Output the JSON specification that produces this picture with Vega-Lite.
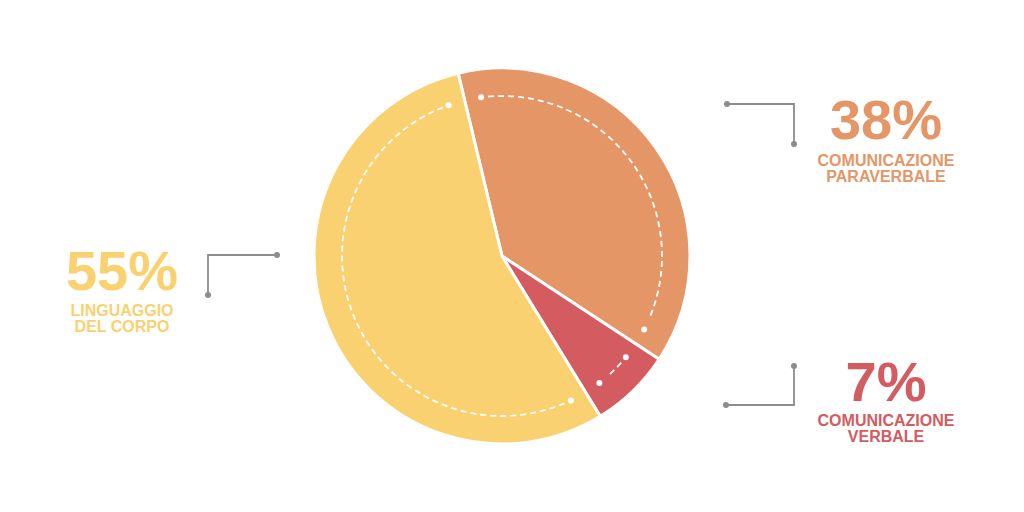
{
  "$schema": "https://vega.github.io/schema/vega-lite/v6.json",
  "width": 1004,
  "height": 512,
  "padding": {"left": 0, "top": 0, "right": 20, "bottom": 0},
  "autosize": {"type": "none"},
  "background": "#ffffff",
  "config": {"view": {"stroke": null}, "font": "Liberation Sans"},
  "datasets": {
    "shares": [
      {"key": "para", "value": 38, "o": 1, "pct": "38%", "label": "COMUNICAZIONE\nPARAVERBALE", "lx": 886, "ly": 139, "by": 166},
      {"key": "verb", "value": 7, "o": 2, "pct": "7%", "label": "COMUNICAZIONE\nVERBALE", "lx": 886, "ly": 401, "by": 426},
      {"key": "corpo", "value": 55, "o": 3, "pct": "55%", "label": "LINGUAGGIO\nDEL CORPO", "lx": 122, "ly": 290, "by": 316}
    ],
    "connectors": [
      {"key": "corpo", "s": 0, "x": 208, "y": 295, "end": true},
      {"key": "corpo", "s": 1, "x": 208, "y": 255, "end": false},
      {"key": "corpo", "s": 2, "x": 277, "y": 255, "end": true},
      {"key": "para", "s": 0, "x": 727, "y": 104, "end": true},
      {"key": "para", "s": 1, "x": 794, "y": 104, "end": false},
      {"key": "para", "s": 2, "x": 794, "y": 144, "end": true},
      {"key": "verb", "s": 0, "x": 794, "y": 366, "end": true},
      {"key": "verb", "s": 1, "x": 794, "y": 405, "end": false},
      {"key": "verb", "s": 2, "x": 726, "y": 405, "end": true}
    ]
  },
  "resolve": {"scale": {"theta": "independent"}},
  "layer": [
    {
      "data": {"name": "shares"},
      "mark": {"type": "arc", "outerRadius": 188, "stroke": "#ffffff", "strokeWidth": 3},
      "encoding": {
        "theta": {"field": "value", "type": "quantitative", "stack": true, "scale": {"range": [-0.2356, 6.0476]}},
        "color": {"field": "key", "type": "nominal", "scale": {"domain": ["para", "verb", "corpo"], "range": ["#E59667", "#D45B60", "#F9D170"]}, "legend": null},
        "order": {"field": "o", "type": "quantitative"}
      }
    },
    {
      "data": {"name": "shares"},
      "transform": [
        {"stack": "value", "groupby": [], "sort": [{"field": "o", "order": "ascending"}], "as": ["t0", "t1"]},
        {"filter": "datum.key === 'para'"}
      ],
      "mark": {"type": "arc", "outerRadius": 160, "innerRadius": 0, "padAngle": 0.2094, "filled": false, "fillOpacity": 0, "stroke": "#ffffff", "strokeWidth": 1.8, "strokeCap": "butt",
        "strokeDash": [0,7,6,4,6,4,6,4,6,4,6,4,6,4,6,4,6,4,6,4,6,4,6,4,6,4,6,4,6,4,6,4,6,4,6,4,6,4,6,4,6,4,6,4,6,4,6,4,6,4,6,4,6,4,6,4,6,4,6,4,6,4,6,4,6,4,6,2000]},
      "encoding": {
        "theta": {"field": "t0", "type": "quantitative", "scale": {"domain": [0, 100], "range": [-0.2356, 6.0476]}},
        "theta2": {"field": "t1"}
      }
    },
    {
      "data": {"name": "shares"},
      "transform": [
        {"stack": "value", "groupby": [], "sort": [{"field": "o", "order": "ascending"}], "as": ["t0", "t1"]},
        {"filter": "datum.key === 'verb'"}
      ],
      "mark": {"type": "arc", "outerRadius": 160, "innerRadius": 0, "padAngle": 0.2094, "filled": false, "fillOpacity": 0, "stroke": "#ffffff", "strokeWidth": 1.8, "strokeCap": "butt",
        "strokeDash": [0,7,6,4,6,2000]},
      "encoding": {
        "theta": {"field": "t0", "type": "quantitative", "scale": {"domain": [0, 100], "range": [-0.2356, 6.0476]}},
        "theta2": {"field": "t1"}
      }
    },
    {
      "data": {"name": "shares"},
      "transform": [
        {"stack": "value", "groupby": [], "sort": [{"field": "o", "order": "ascending"}], "as": ["t0", "t1"]},
        {"filter": "datum.key === 'corpo'"}
      ],
      "mark": {"type": "arc", "outerRadius": 160, "innerRadius": 0, "padAngle": 0.2094, "filled": false, "fillOpacity": 0, "stroke": "#ffffff", "strokeWidth": 1.8, "strokeCap": "butt",
        "strokeDash": [0,7,6,4,6,4,6,4,6,4,6,4,6,4,6,4,6,4,6,4,6,4,6,4,6,4,6,4,6,4,6,4,6,4,6,4,6,4,6,4,6,4,6,4,6,4,6,4,6,4,6,4,6,4,6,4,6,4,6,4,6,4,6,4,6,4,6,4,6,4,6,4,6,4,6,4,6,4,6,4,6,4,6,4,6,4,6,4,6,4,6,4,6,4,6,4,6,4,6,4,6,4,6,2000]},
      "encoding": {
        "theta": {"field": "t0", "type": "quantitative", "scale": {"domain": [0, 100], "range": [-0.2356, 6.0476]}},
        "theta2": {"field": "t1"}
      }
    },
    {
      "data": {"name": "shares"},
      "mark": {"type": "arc", "outerRadius": 160, "innerRadius": 0, "padAngle": 0.2094, "filled": false, "fillOpacity": 0, "stroke": "#ffffff", "strokeWidth": 6, "strokeCap": "round", "strokeDash": [0, 3000]},
      "encoding": {
        "theta": {"field": "value", "type": "quantitative", "stack": true, "scale": {"range": [-0.2356, 6.0476]}},
        "detail": {"field": "key"},
        "order": {"field": "o", "type": "quantitative"}
      }
    },
    {
      "data": {"name": "shares"},
      "mark": {"type": "arc", "outerRadius": 160, "innerRadius": 0, "padAngle": 0.2094, "filled": false, "fillOpacity": 0, "stroke": "#ffffff", "strokeWidth": 6, "strokeCap": "round", "strokeDash": [0, 3000]},
      "encoding": {
        "theta": {"field": "value", "type": "quantitative", "stack": true, "scale": {"range": [6.0476, -0.2356]}},
        "detail": {"field": "key"},
        "order": {"field": "o", "type": "quantitative", "sort": "descending"}
      }
    },
    {
      "data": {"name": "connectors"},
      "mark": {"type": "line", "color": "#8c8c8c", "strokeWidth": 1.8},
      "encoding": {
        "x": {"field": "x", "type": "quantitative", "scale": {"domain": [0, 1004], "nice": false, "zero": false}, "axis": null},
        "y": {"field": "y", "type": "quantitative", "scale": {"domain": [0, 512], "nice": false, "zero": false, "reverse": true}, "axis": null},
        "detail": {"field": "key"},
        "order": {"field": "s", "type": "quantitative"}
      }
    },
    {
      "data": {"name": "connectors"},
      "transform": [{"filter": "datum.end"}],
      "mark": {"type": "circle", "size": 36, "color": "#8c8c8c", "opacity": 1},
      "encoding": {
        "x": {"field": "x", "type": "quantitative"},
        "y": {"field": "y", "type": "quantitative"}
      }
    },
    {
      "data": {"name": "shares"},
      "mark": {"type": "text", "fontSize": 56, "fontWeight": "bold", "align": "center", "baseline": "alphabetic"},
      "encoding": {
        "x": {"field": "lx", "type": "quantitative"},
        "y": {"field": "ly", "type": "quantitative"},
        "text": {"field": "pct"},
        "color": {"field": "key", "type": "nominal", "legend": null}
      }
    },
    {
      "data": {"name": "shares"},
      "mark": {"type": "text", "fontSize": 16, "fontWeight": "bold", "align": "center", "baseline": "alphabetic", "lineBreak": "\n", "lineHeight": 16},
      "encoding": {
        "x": {"field": "lx", "type": "quantitative"},
        "y": {"field": "by", "type": "quantitative"},
        "text": {"field": "label"},
        "color": {"field": "key", "type": "nominal", "legend": null}
      }
    }
  ]
}
